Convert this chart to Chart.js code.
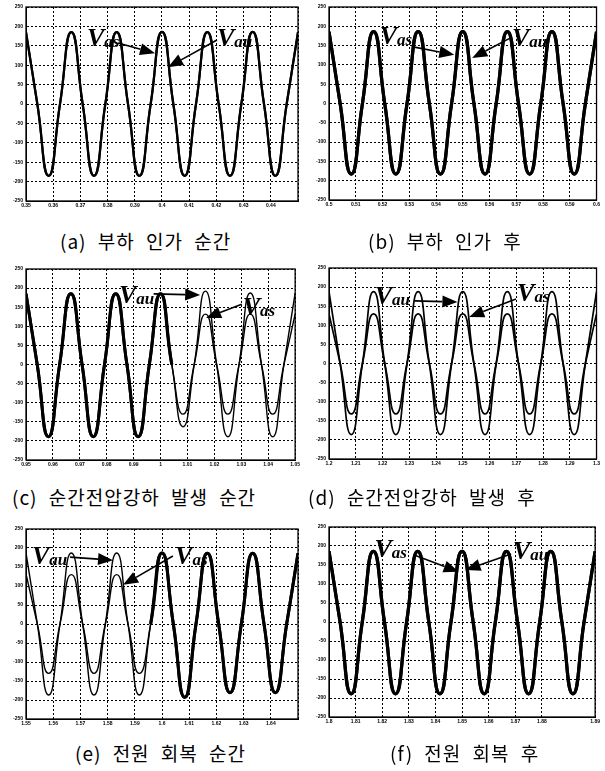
<!DOCTYPE html>
<html>
<head>
<meta charset="utf-8">
<script src="https://cdn.jsdelivr.net/npm/chart.js@4.4.1/dist/chart.umd.min.js"></script>
<style>
  body { margin: 0; background: #fff; }
  #fig { position: relative; width: 605px; height: 771px; overflow: hidden; }
  canvas { position: absolute; }
  .cap { position: absolute; font-family: "Noto Sans CJK KR"; font-size: 19px; line-height: 22px;
         letter-spacing: 1px; word-spacing: 6px; color: #000; white-space: nowrap; }
  .lbl { position: absolute; font-family: "Liberation Serif"; font-weight: bold; font-style: italic;
         font-size: 26px; line-height: 26px; color: #000; white-space: nowrap; }
  .lbl sub { font-size: 17px; vertical-align: baseline; position: relative; top: 1px; }
</style>
</head>
<body>
<div id="fig"></div>
<script>
// 60 Hz waveforms, extrema every half period (1/120 s)
const halfPeriod = 1 / 120;
const yTickLabels = ["-250", "-200", "-150", "-100", "-50", "0", "50", "100", "150", "200", "250"];

// (a) load applied
const xTicksA = ["0.35", "0.36", "0.37", "0.38", "0.39", "0.4", "0.41", "0.42", "0.43", "0.44", ""];
const vasA = [185, -185, 185, -185, 185, -185, 186, -185, 185, -185, 186, -185, 185];
const vauA = [185, -185, 185, -185, 185, -185, 186, -185, 185, -185, 186, -185, 185];

// (b) after load
const xTicksB = ["0.5", "0.51", "0.52", "0.53", "0.54", "0.55", "0.56", "0.57", "0.58", "0.59", "0.6"];
const vasB = [186, -183, 186, -183, 186, -183, 186, -183, 186, -183, 186, -183, 186];
const vauB = [186, -183, 186, -183, 186, -183, 186, -183, 186, -183, 186, -183, 186];

// (c) sag starts
const xTicksC = ["0.95", "0.96", "0.97", "0.98", "0.99", "1", "1.01", "1.02", "1.03", "1.04", "1.05"];
const vasC = [185, -189, 185, -189, 185, -189, 185, -130, 132, -130, 132, -130, 132];
const vauC = [185, -189, 185, -189, 185, -189, 185, -163, 192, -189, 187, -189, 187];

// (d) during sag
const xTicksD = ["1.2", "1.21", "1.22", "1.23", "1.24", "1.25", "1.26", "1.27", "1.28", "1.29", "1.3"];
const vasD = [130, -132, 130, -132, 130, -132, 130, -132, 130, -132, 130, -132, 130];
const vauD = [188, -186, 188, -186, 188, -186, 188, -186, 188, -186, 188, -186, 188];

// (e) supply recovers
const xTicksE = ["1.55", "1.56", "1.57", "1.58", "1.59", "1.6", "1.61", "1.62", "1.63", "1.64", ""];
const vasE = [132, -130, 130, -130, 130, -130, 187, -193, 186, -181, 186, -181, 186];
const vauE = [187, -187, 187, -187, 187, -187, 187, -193, 186, -181, 186, -181, 186];

// (f) after recovery
const xTicksF = ["1.8", "1.81", "1.82", "1.83", "1.84", "1.85", "1.86", "1.87", "1.88", "1.89", ""];
const vasF = [186, -189, 186, -189, 186, -189, 186, -189, 186, -189, 186, -189, 186];
const vauF = [186, -189, 186, -189, 186, -189, 186, -189, 186, -189, 186, -189, 186];

const captions = ["(a) 부하 인가 순간", "(b) 부하 인가 후", "(c) 순간전압강하 발생 순간",
                  "(d) 순간전압강하 발생 후", "(e) 전원 회복 순간", "(f) 전원 회복 후"];

var panels = [
  { t0: 0.35, ticks: xTicksA, vas: vasA, vau: vauA, rect: [26, 7, 298, 201], thick: 2.2, thin: 2.2,
    cap: [60, 230], labels: [["as", 0.37243, 147], ["au", 0.42022, 147]],
    arrows: [[0.38382, 157, 0.39743, 131], [0.42022, 165, 0.40221, 95]] },
  { t0: 0.5, ticks: xTicksB, vas: vasB, vau: vauB, rect: [329, 7, 598, 200], thick: 3.2, thin: 3.2,
    cap: [368, 230], labels: [["as", 0.51896, 151], ["au", 0.5684, 146]],
    arrows: [[0.53197, 146, 0.54684, 126], [0.5684, 172, 0.55353, 118]] },
  { t0: 0.95, ticks: xTicksC, vas: vasC, vau: vauC, rect: [26, 269, 298, 460], thick: 3, thin: 1.4,
    cap: [12, 486], labels: [["au", 0.98456, 158], ["as", 1.03051, 127]],
    arrows: [[0.99743, 185, 1.01471, 182], [1.03015, 158, 1.01691, 122]] },
  { t0: 1.2, ticks: xTicksD, vas: vasD, vau: vauD, rect: [329, 268, 598, 459], thick: 1.7, thin: 1.7,
    cap: [308, 486], labels: [["au", 1.2171, 153], ["as", 1.2703, 161]],
    arrows: [[1.2320, 164, 1.2480, 161], [1.2699, 169, 1.2524, 122]] },
  { t0: 1.55, ticks: xTicksE, vas: vasE, vau: vauE, rect: [26, 529, 298, 719], thick: 3, thin: 1.4,
    cap: [75, 742], labels: [["au", 1.5522, 155], ["as", 1.6048, 155]],
    arrows: [[1.5662, 176, 1.5820, 168], [1.6040, 179, 1.5857, 103]] },
  { t0: 1.8, ticks: xTicksF, vas: vasF, vau: vauF, rect: [329, 527, 598, 717], thick: 3.2, thin: 3.2,
    cap: [390, 742], labels: [["as", 1.8171, 168], ["au", 1.8691, 163]],
    arrows: [[1.8320, 176, 1.8487, 132], [1.8684, 179, 1.8513, 137]] }
];

// extrema plus the zero crossings between them
function wavePoints(t0, ext) {
  var pts = [];
  for (var k = 0; k < ext.length; k++) {
    pts.push({ x: t0 + k * halfPeriod, y: ext[k] });
    if (k < ext.length - 1) pts.push({ x: t0 + (k + 0.5) * halfPeriod, y: 0 });
  }
  return pts;
}

var boxPlugin = {
  id: "box",
  afterDraw: function(chart, args, opts) {
    var ctx = chart.ctx, a = chart.chartArea;
    var sx = chart.scales.x, sy = chart.scales.y;
    ctx.save();
    ctx.strokeStyle = "#000";
    ctx.fillStyle = "#000";
    ctx.lineWidth = 1.3;
    ctx.strokeRect(a.left, a.top, a.right - a.left, a.bottom - a.top);
    (opts.arrows || []).forEach(function(ar) {
      var x1 = sx.getPixelForValue(ar[0]), y1 = sy.getPixelForValue(ar[1]);
      var x2 = sx.getPixelForValue(ar[2]), y2 = sy.getPixelForValue(ar[3]);
      var ang = Math.atan2(y2 - y1, x2 - x1);
      var L = 15, W = 12;
      var bx = x2 - L * Math.cos(ang), by = y2 - L * Math.sin(ang);
      ctx.lineWidth = 1.6;
      ctx.beginPath(); ctx.moveTo(x1, y1); ctx.lineTo(bx, by); ctx.stroke();
      ctx.beginPath();
      ctx.moveTo(x2, y2);
      ctx.lineTo(bx + W / 2 * Math.sin(ang), by - W / 2 * Math.cos(ang));
      ctx.lineTo(bx - W / 2 * Math.sin(ang), by + W / 2 * Math.cos(ang));
      ctx.closePath(); ctx.fill();
    });
    ctx.restore();
  }
};

var fig = document.getElementById("fig");
var tickFont = { size: 5, weight: "bold", family: "Liberation Sans" };

panels.forEach(function(p, idx) {
  var l = p.rect[0], t = p.rect[1], r = p.rect[2], b = p.rect[3];
  var cv = document.createElement("canvas");
  var cLeft = l - 30, cTop = t - 10;
  cv.width = r - l + 34; cv.height = b - t + 24;
  cv.style.left = cLeft + "px"; cv.style.top = cTop + "px";
  fig.appendChild(cv);

  var vas = p.vas, vau = p.vau, thick = p.thick, thin = p.thin;
  var vasPts = wavePoints(p.t0, vas), vauPts = wavePoints(p.t0, vau);
  function segWidth(ctx) {
    var i0 = ctx.p0DataIndex, i1 = ctx.p1DataIndex;
    var same = Math.abs(vasPts[i0].y - vauPts[i0].y) < 1 && Math.abs(vasPts[i1].y - vauPts[i1].y) < 1;
    return same ? thick : thin;
  }

  var chart = new Chart(cv.getContext("2d"), {
    type: "line",
    data: {
      datasets: [
        { label: "Vau", data: vauPts, borderColor: "#000", borderWidth: thin, pointRadius: 0,
          tension: 0.55, clip: 0, segment: { borderWidth: segWidth } },
        { label: "Vas", data: vasPts, borderColor: "#000", borderWidth: thin, pointRadius: 0,
          tension: 0.55, clip: 0, segment: { borderWidth: segWidth } }
      ]
    },
    options: {
      responsive: false,
      animation: false,
      events: [],
      layout: { padding: { left: 0, top: 10, right: 4, bottom: 0 } },
      plugins: {
        legend: { display: false },
        tooltip: { enabled: false },
        box: { arrows: p.arrows }
      },
      scales: {
        x: {
          type: "linear", min: p.t0, max: p.t0 + 0.1,
          ticks: { stepSize: 0.01, autoSkip: false, maxRotation: 0, padding: 2, color: "#000", font: tickFont,
                   callback: function(v, i) { return p.ticks[i]; } },
          grid: { color: "#000", lineWidth: 1, drawTicks: false },
          border: { display: true, color: "#000", dash: [2, 2] },
          afterFit: function(s) { s.height = 14; }
        },
        y: {
          min: -250, max: 250,
          ticks: { stepSize: 50, padding: 3, color: "#000", font: tickFont,
                   callback: function(v, i) { return yTickLabels[i]; } },
          grid: { color: "#000", lineWidth: 1, drawTicks: false },
          border: { display: true, color: "#000", dash: [2, 2] },
          afterFit: function(s) { s.width = 30; }
        }
      }
    },
    plugins: [boxPlugin]
  });

  p.labels.forEach(function(lb) {
    var s = document.createElement("span");
    s.className = "lbl";
    s.innerHTML = "V<sub>" + lb[0] + "</sub>";
    s.style.left = (cLeft + chart.scales.x.getPixelForValue(lb[1])) + "px";
    s.style.top = (cTop + chart.scales.y.getPixelForValue(lb[2]) - 22) + "px";
    fig.appendChild(s);
  });

  var c = document.createElement("div");
  c.className = "cap";
  c.textContent = captions[idx];
  c.style.left = p.cap[0] + "px";
  c.style.top = p.cap[1] + "px";
  fig.appendChild(c);
});
</script>
</body>
</html>
